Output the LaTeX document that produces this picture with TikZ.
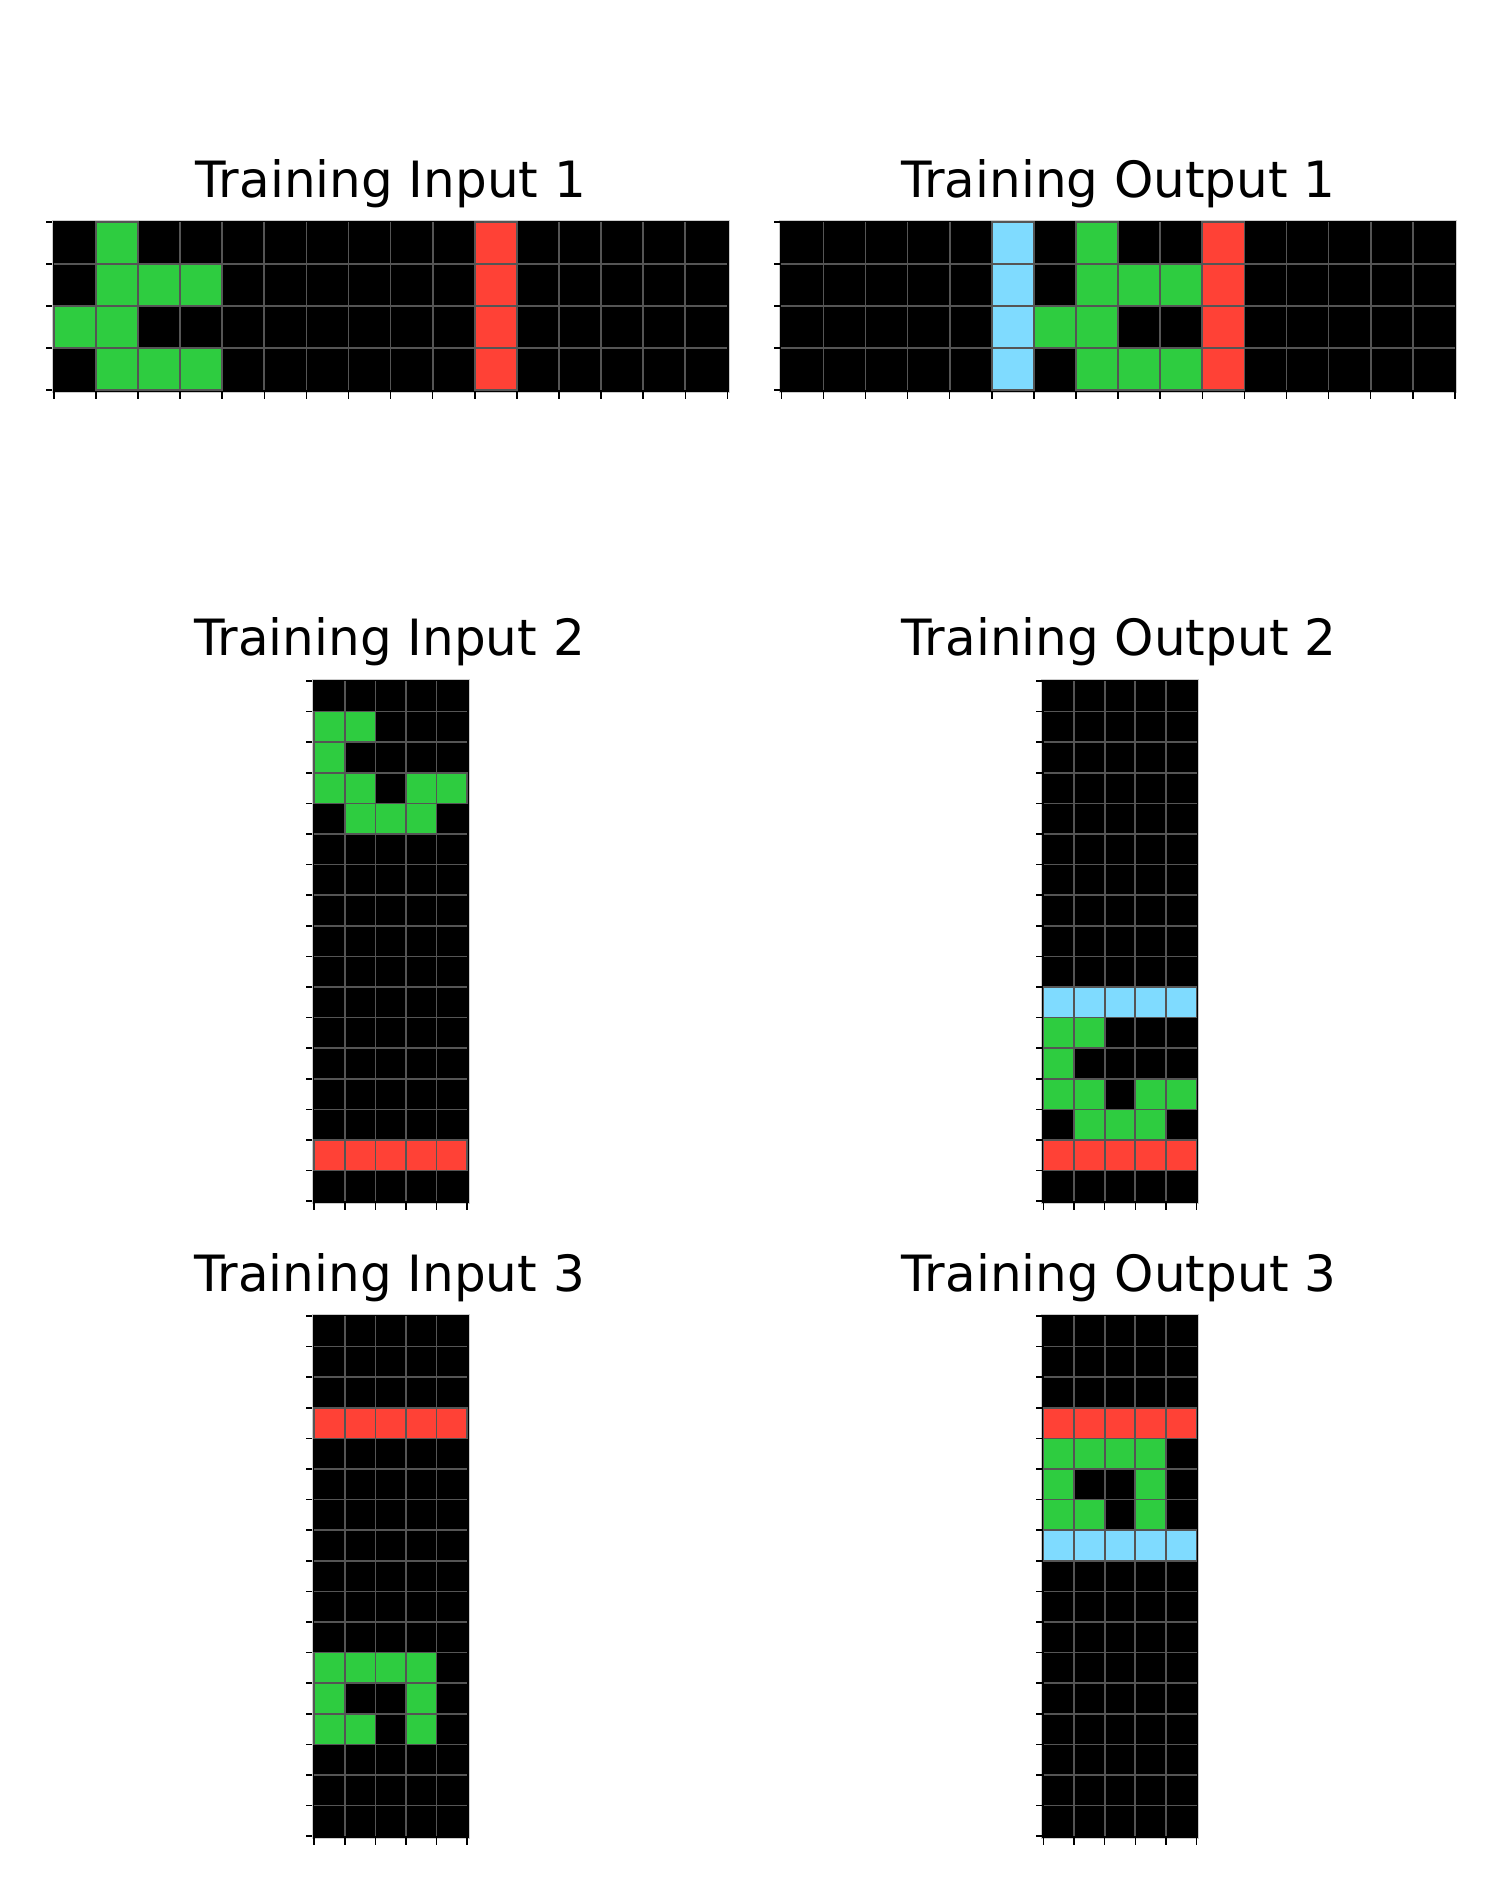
\documentclass[tikz,border=0pt]{standalone}
\usepackage{fontspec}
\setmainfont{DejaVu Sans}
\definecolor{arcgreen}{HTML}{2ECC40}
\definecolor{arcred}{HTML}{FF4136}
\definecolor{arcblue}{HTML}{7FDBFF}
\definecolor{gridgray}{HTML}{555555}
\definecolor{framegray}{HTML}{CCCCCC}
\tikzset{
  gridline/.style={gridgray, line width=0.85pt},
  cellbox/.style={draw=gridgray, line width=0.85pt},
  tickline/.style={black, line width=0.75pt},
  frameline/.style={framegray, line width=0.5pt},
  titletext/.style={anchor=base, inner sep=0pt, font=\fontsize{25pt}{30pt}\selectfont},
}
% #1 x0, #2 y0, #3 cell size, #4 ncols, #5 nrows, #6 list col/row/colour
\newcommand\arcgrid[6]{%
  \fill[black] ({#1-1.8},{#2-1.8}) rectangle ({#1+#4*#3+1.8},{#2+#5*#3+1.8});
  \pgfmathtruncatemacro\ncm{#4-1}
  \pgfmathtruncatemacro\nrm{#5-1}
  \foreach \ii in {1,...,\ncm} {
    \draw[gridline] ({#1+\ii*#3},#2) -- ++(0,{#5*#3});
  }
  \foreach \jj in {1,...,\nrm} {
    \draw[gridline] (#1,{#2+\jj*#3}) -- ++({#4*#3},0);
  }
  \foreach \cc/\rr/\kk in {#6} {
    \filldraw[cellbox, fill=\kk] ({#1+\cc*#3},{#2+\rr*#3}) rectangle ++(#3,#3);
  }
  \draw[frameline] ({#1-1.8},{#2-1.8}) rectangle ({#1+#4*#3+1.8},{#2+#5*#3+1.8});
  \foreach \ii in {0,...,#4} {
    \draw[tickline] ({#1+\ii*#3},{#2+#5*#3+1.8}) -- ++(0,7);
  }
  \foreach \jj in {0,...,#5} {
    \draw[tickline] ({#1-1.8},{#2+\jj*#3}) -- ++(-6,0);
  }
}
\begin{document}
\begin{tikzpicture}[x=0.5pt,y=-0.5pt]
\useasboundingbox[fill=white] (0,0) rectangle (1500,1890);

% Titles
\node[titletext] (t1) at (390.9,197) {Training Input 1};
\node[titletext] (t2) at (1118.4,197) {Training Output 1};
\node[titletext] (t3) at (389.7,655) {Training Input 2};
\node[titletext] (t4) at (1119,655) {Training Output 2};
\node[titletext] (t5) at (389.7,1291) {Training Input 3};
\node[titletext] (t6) at (1119,1291) {Training Output 3};

% Training Input 1
\arcgrid{53.8}{221.8}{42.1}{16}{4}{1/0/arcgreen,10/0/arcred,
  1/1/arcgreen,2/1/arcgreen,3/1/arcgreen,10/1/arcred,
  0/2/arcgreen,1/2/arcgreen,10/2/arcred,
  1/3/arcgreen,2/3/arcgreen,3/3/arcgreen,10/3/arcred}

% Training Output 1
\arcgrid{781.3}{221.8}{42.1}{16}{4}{5/0/arcblue,7/0/arcgreen,10/0/arcred,
  5/1/arcblue,7/1/arcgreen,8/1/arcgreen,9/1/arcgreen,10/1/arcred,
  5/2/arcblue,6/2/arcgreen,7/2/arcgreen,10/2/arcred,
  5/3/arcblue,7/3/arcgreen,8/3/arcgreen,9/3/arcgreen,10/3/arcred}

% Training Input 2
\arcgrid{314.2}{681}{30.6}{5}{17}{0/1/arcgreen,1/1/arcgreen,
  0/2/arcgreen,
  0/3/arcgreen,1/3/arcgreen,3/3/arcgreen,4/3/arcgreen,
  1/4/arcgreen,2/4/arcgreen,3/4/arcgreen,
  0/15/arcred,1/15/arcred,2/15/arcred,3/15/arcred,4/15/arcred}

% Training Output 2
\arcgrid{1043.5}{681}{30.6}{5}{17}{0/10/arcblue,1/10/arcblue,2/10/arcblue,3/10/arcblue,4/10/arcblue,
  0/11/arcgreen,1/11/arcgreen,
  0/12/arcgreen,
  0/13/arcgreen,1/13/arcgreen,3/13/arcgreen,4/13/arcgreen,
  1/14/arcgreen,2/14/arcgreen,3/14/arcgreen,
  0/15/arcred,1/15/arcred,2/15/arcred,3/15/arcred,4/15/arcred}

% Training Input 3
\arcgrid{314.2}{1316}{30.6}{5}{17}{0/3/arcred,1/3/arcred,2/3/arcred,3/3/arcred,4/3/arcred,
  0/11/arcgreen,1/11/arcgreen,2/11/arcgreen,3/11/arcgreen,
  0/12/arcgreen,3/12/arcgreen,
  0/13/arcgreen,1/13/arcgreen,3/13/arcgreen}

% Training Output 3
\arcgrid{1043.5}{1316}{30.6}{5}{17}{0/3/arcred,1/3/arcred,2/3/arcred,3/3/arcred,4/3/arcred,
  0/4/arcgreen,1/4/arcgreen,2/4/arcgreen,3/4/arcgreen,
  0/5/arcgreen,3/5/arcgreen,
  0/6/arcgreen,1/6/arcgreen,3/6/arcgreen,
  0/7/arcblue,1/7/arcblue,2/7/arcblue,3/7/arcblue,4/7/arcblue}
\end{tikzpicture}
\end{document}
